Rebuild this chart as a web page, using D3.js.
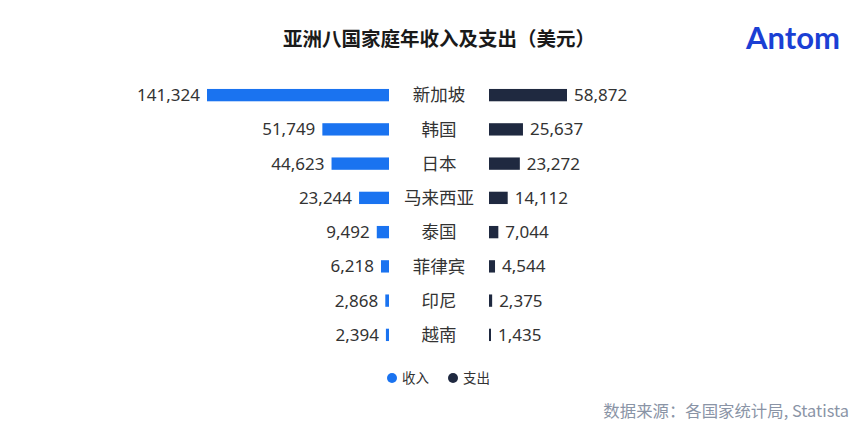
<!DOCTYPE html>
<html><head><meta charset="utf-8">
<script src="https://cdn.jsdelivr.net/npm/d3@7"></script>
<style>body{margin:0;background:#fff;}svg{display:block;font-family:"Noto Sans","Noto Sans CJK SC",sans-serif;}</style>
</head><body><svg id="c" width="863" height="430"></svg>
<script>
const categories = ["新加坡","韩国","日本","马来西亚","泰国","菲律宾","印尼","越南"];
const income = [141324,51749,44623,23244,9492,6218,2868,2394];
const expense = [58872,25637,23272,14112,7044,4544,2375,1435];
const legendLabels = ["收入","支出"];
const title = "亚洲八国家庭年收入及支出（美元）";
const source = "数据来源：各国家统计局, Statista";

const svg = d3.select("#c");
const blue = "#1a73f0", dark = "#1f2940", textC = "#333";
const fmt = d3.format(",");

svg.append("text").attr("x",439).attr("y",46).attr("text-anchor","middle")
  .attr("font-family","'Noto Sans CJK SC',sans-serif")
  .attr("font-size",19.5).attr("font-weight",700).attr("fill","#1a1a1a").text(title);
svg.append("text").attr("x",746).attr("y",49).attr("font-family","Lato, 'Open Sans', sans-serif")
  .attr("font-size",31).attr("font-weight",700).attr("fill","#1b3fd4").attr("letter-spacing",0).text("Antom");

const y = d3.scaleBand().domain(categories).range([78,352]).paddingInner(0.64).paddingOuter(0.32);
const xL = d3.scaleLinear().domain([0,141324]).range([0,182]);
const xR = d3.scaleLinear().domain([0,58872]).range([0,78]);
const leftEdge = 389, rightEdge = 489;

const g = svg.append("g");
categories.forEach((c,i)=>{
  const yc = y(c) + y.bandwidth()/2;
  const wl = Math.max(3, xL(income[i]));
  const wr = Math.max(2, xR(expense[i]));
  g.append("rect").attr("x",leftEdge-wl).attr("y",y(c)).attr("width",wl).attr("height",y.bandwidth()).attr("fill",blue);
  g.append("rect").attr("x",rightEdge).attr("y",y(c)).attr("width",wr).attr("height",y.bandwidth()).attr("fill",dark);
  g.append("text").attr("x",leftEdge-wl-7).attr("y",yc).attr("dy","0.35em").attr("text-anchor","end")
    .attr("font-size",17).attr("fill",textC).text(fmt(income[i]));
  g.append("text").attr("x",rightEdge+wr+7).attr("y",yc).attr("dy","0.35em")
    .attr("font-size",17).attr("fill",textC).text(fmt(expense[i]));
  g.append("text").attr("x",439).attr("y",yc).attr("dy","0.35em").attr("text-anchor","middle")
    .attr("font-family","'Noto Sans CJK SC',sans-serif")
    .attr("font-size",17.5).attr("fill",textC).text(c);
});

const lg = svg.append("g");
[[392,blue],[453,dark]].forEach(([x,col],i)=>{
  lg.append("circle").attr("cx",x).attr("cy",378).attr("r",5).attr("fill",col);
  lg.append("text").attr("x",x+10).attr("y",378).attr("dy","0.35em")
    .attr("font-family","'Noto Sans CJK SC',sans-serif")
    .attr("font-size",13.5).attr("fill",textC).text(legendLabels[i]);
});

svg.append("text").attr("x",849).attr("y",411).attr("dy","0.35em").attr("text-anchor","end")
  .attr("font-family","'Noto Sans CJK SC','Noto Sans',sans-serif")
  .attr("font-size",16.4).attr("fill","#8a94a6").text(source);
</script></body></html>
